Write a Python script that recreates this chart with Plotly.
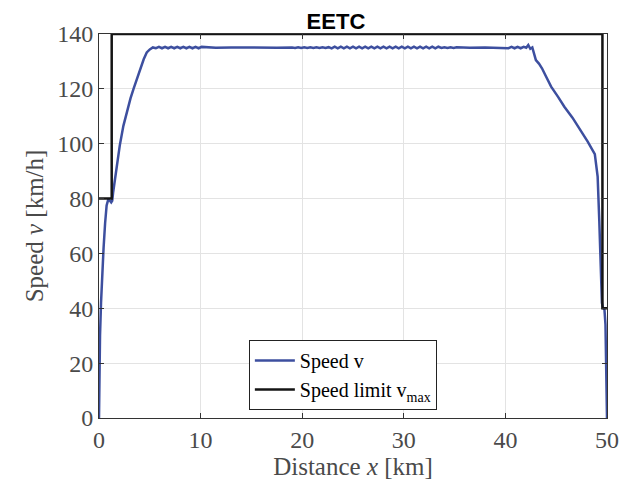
import plotly.graph_objects as go

# ---- data ----
speed_x = [
    0, 0.02, 0.05, 0.1, 0.2, 0.3, 0.45, 0.6, 0.75, 0.9, 1.05, 1.2, 1.3, 1.4, 1.55, 1.75,
    2.05, 2.4, 2.75, 3.1, 3.4, 3.75, 4.05, 4.4, 4.7, 5.0, 5.3,
    5.6, 5.9, 6.2, 6.5, 6.8, 7.1, 7.4, 7.7, 8.0, 8.3, 8.6, 8.9, 9.2, 9.5, 9.8, 10.1,
    11.5, 13.0, 14.5, 16.0, 17.5, 19.0,
    19.3, 19.6, 19.9, 20.2, 20.5, 20.8, 21.1, 21.4, 21.7, 22.0, 22.3, 22.6,
    22.9, 23.2, 23.5, 23.8, 24.1, 24.4, 24.7, 25.0, 25.3, 25.6, 25.9, 26.2, 26.5, 26.8,
    27.1, 27.4, 27.7, 28.0, 28.3, 28.6, 28.9, 29.2, 29.5, 29.8, 30.1, 30.4, 30.7, 31.0,
    31.3, 31.6, 31.9, 32.2, 32.5, 32.8, 33.1, 33.4, 33.7, 34.0, 34.3, 34.6, 34.9, 35.2,
    36.5, 38.0, 39.5, 40.0,
    40.3, 40.6, 40.9, 41.2, 41.5, 41.8, 42.05, 42.25, 42.45, 42.65,
    42.8, 43.0, 43.3, 43.6, 44.0, 44.5, 45.2, 45.8, 46.6, 47.4, 48.1, 48.8, 48.95,
    49.08, 49.24, 49.4, 49.5, 49.6, 49.75, 49.85, 49.92, 49.97, 50.0,
]
speed_v = [
    0, 14, 22, 30, 42, 51, 62, 71, 77.5, 79.5, 79.3, 78.6, 79.2, 82.5, 86.5, 91.6,
    99.5, 106.5, 112, 116.5, 120, 124, 127.5, 130.8, 133.3, 134.4, 135.1,
    134.8, 135.3, 134.8, 135.3, 134.8, 135.3, 134.8, 135.3, 134.8, 135.3, 134.8, 135.3, 134.8, 135.3, 134.8, 135.3,
    135.0, 135.1, 135.0, 135.1, 135.0, 135.1,
    134.9, 135.2, 134.9, 135.2, 134.9, 135.2, 134.9, 135.2, 134.9, 135.2, 134.9, 135.2,
    134.75, 135.35, 134.75, 135.35, 134.75, 135.35, 134.75, 135.35, 134.75, 135.35, 134.75, 135.35, 134.75, 135.35,
    134.75, 135.35, 134.75, 135.35, 134.75, 135.35, 134.75, 135.35, 134.75, 135.35, 134.75, 135.35, 134.75, 135.35,
    134.75, 135.35, 134.75, 135.35, 134.75, 135.35, 134.75, 135.35, 134.9, 135.2, 134.9, 135.2, 134.9, 135.2,
    135.0, 135.1, 135.0, 135.0,
    134.8, 135.3, 134.8, 135.3, 134.8, 135.3, 135.0, 136.0, 134.6, 135.1,
    133.0, 130.5, 129.2, 127.5, 124.5, 120.8, 117.0, 113.5, 109.5, 105.0, 100.8, 96.2, 92.0,
    88.0, 72.0, 56.0, 42.0, 40.2, 39.5, 34.0, 22.0, 10.0, 0,
]

limit_x = [0, 1.25, 1.25, 49.55, 49.55, 50]
limit_v = [80, 80, 140, 140, 40, 40]

x_ticks = [0, 10, 20, 30, 40, 50]
y_ticks = [0, 20, 40, 60, 80, 100, 120, 140]

title_text = "EETC"
x_title = "Distance <i>x</i> [km]"
y_title = "Speed <i>v</i> [km/h]"
speed_name = "Speed v"
limit_name = "Speed limit v<sub>max</sub>"

# ---- figure ----
serif = "Liberation Serif, Times New Roman, serif"
text_grey = "#4a4a4a"

fig = go.Figure()
fig.add_trace(go.Scatter(x=speed_x, y=speed_v, mode="lines", name=speed_name,
                         line=dict(color="#3d4f9f", width=2.5)))
fig.add_trace(go.Scatter(x=limit_x, y=limit_v, mode="lines", name=limit_name,
                         line=dict(color="#141414", width=2.5)))

axis_common = dict(
    showline=True, linecolor="#333333", linewidth=1, mirror="ticks",
    ticks="inside", ticklen=5, tickcolor="#333333",
    showgrid=True, gridcolor="#e3e3e3", gridwidth=1,
    zeroline=False, automargin=False,
    tickfont=dict(family=serif, size=24, color=text_grey),
)

fig.update_layout(
    width=621, height=483,
    margin=dict(l=99, r=14, t=34, b=65),
    paper_bgcolor="white", plot_bgcolor="white",
    title=dict(text=f"<b>{title_text}</b>", xref="container", yref="container",
               x=0.541, xanchor="center", y=0.955, yanchor="middle", automargin=False,
               font=dict(family="Liberation Sans, Arial, sans-serif", size=22, color="black")),
    xaxis=dict(range=[0, 50], tickvals=x_ticks,
               title=dict(text=x_title, standoff=2,
                          font=dict(family=serif, size=25, color=text_grey)),
               **axis_common),
    yaxis=dict(range=[0, 140], tickvals=y_ticks,
               title=dict(text=y_title, standoff=6,
                          font=dict(family=serif, size=25, color=text_grey)),
               **axis_common),
    legend=dict(x=0.295, y=0.203, xanchor="left", yanchor="top",
                bgcolor="white", bordercolor="#222222", borderwidth=1,
                font=dict(family=serif, size=20, color="black"),
                tracegroupgap=0, itemwidth=40),
    showlegend=True,
)

fig.write_html("out.html")
